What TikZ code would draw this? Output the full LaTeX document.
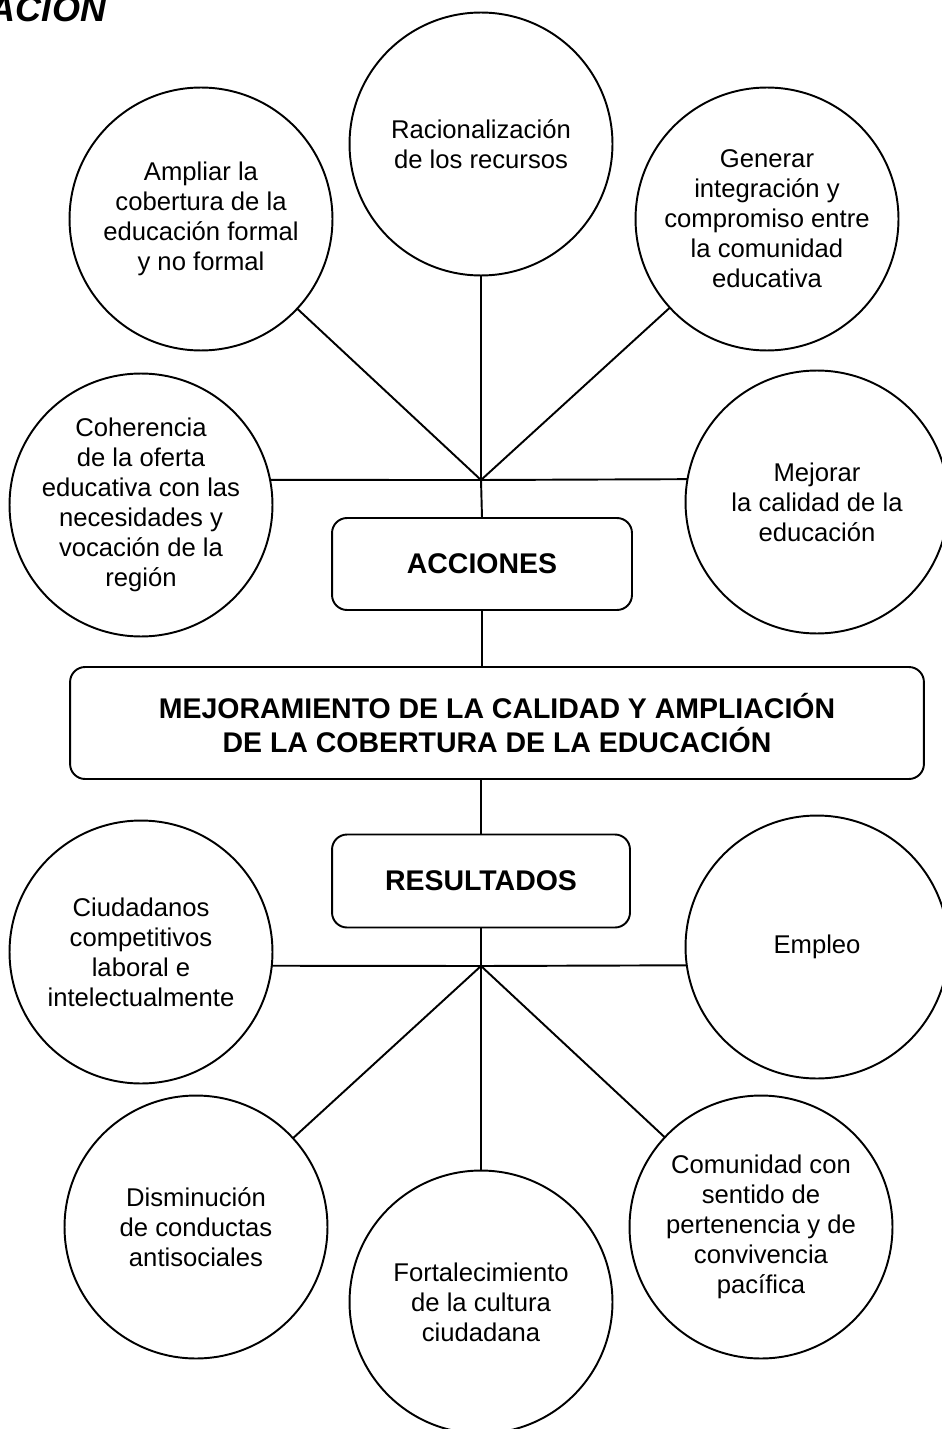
\documentclass[tikz,border=0pt]{standalone}
\usepackage{fontspec}
\setmainfont{Liberation Sans}

\begin{document}
\begin{tikzpicture}[x = 0.02cm, y = -0.02cm, line width = 1.1pt,
  idea/.style = {draw, shape = circle, minimum size = 5.26cm, inner sep = 0pt, outer sep = 0pt, align = center, font = \fontsize{14.6}{17.1}\selectfont},
  caja/.style = {draw, shape = rectangle, rounded corners = 0.3cm, inner sep = 0pt, outer sep = 0pt, align = center, font = \bfseries\fontsize{16.2}{19.4}\selectfont}]
\useasboundingbox (0,0) rectangle (941,1429);
\node[anchor = base east, inner sep = 0pt, font = \bfseries\itshape\fontsize{20.5}{24}\selectfont] (titulo) at (107,22) {ACION};

\node[idea] (rac) at (481,144) {Racionalización\\de los recursos};
\node[idea] (amp) at (201,219) {Ampliar la\\cobertura de la\\educación formal\\y no formal};
\node[idea] (gen) at (767,219) {Generar\\integración y\\compromiso entre\\la comunidad\\educativa};
\node[idea] (coh) at (141,505) {Coherencia\\de la oferta\\educativa con las\\necesidades y\\vocación de la\\región};
\node[idea] (mej) at (817,502) {Mejorar\\la calidad de la\\educación};
\coordinate (acchub) at (481,480);

\node[caja, minimum width = 6cm, minimum height = 1.84cm] (acc) at (482,564) {ACCIONES};
\node[caja, minimum width = 17.08cm, minimum height = 2.24cm] (meta) at (497,723) {MEJORAMIENTO DE LA CALIDAD Y AMPLIACIÓN\\DE LA COBERTURA DE LA EDUCACIÓN};
\node[caja, minimum width = 5.96cm, minimum height = 1.86cm] (res) at (481,881) {RESULTADOS};
\coordinate (reshub) at (481,966);

\node[idea] (ciu) at (141,952) {Ciudadanos\\competitivos\\laboral e\\intelectualmente};
\node[idea] (emp) at (817,947) {Empleo};
\node[idea] (dis) at (196,1227) {Disminución\\de conductas\\antisociales};
\node[idea] (fort) at (481,1302) {Fortalecimiento\\de la cultura\\ciudadana};
\node[idea] (com) at (761,1227) {Comunidad con\\sentido de\\pertenencia y de\\convivencia\\pacífica};

\draw (rac) -- (acchub);
\draw (amp) -- (acchub);
\draw (gen) -- (acchub);
\draw (coh.11) -- (acchub) -- (mej.170);
\draw (acchub) -- (acc.north);
\draw (acc.south) -- (meta.north -| acc.south);
\draw (meta.south -| res.north) -- (res.north);
\draw (res.south) -- (reshub);
\draw (ciu.-6) -- (reshub) -- (emp.188);
\draw (reshub) -- (dis);
\draw (reshub) -- (fort);
\draw (reshub) -- (com);
\end{tikzpicture}
\end{document}
